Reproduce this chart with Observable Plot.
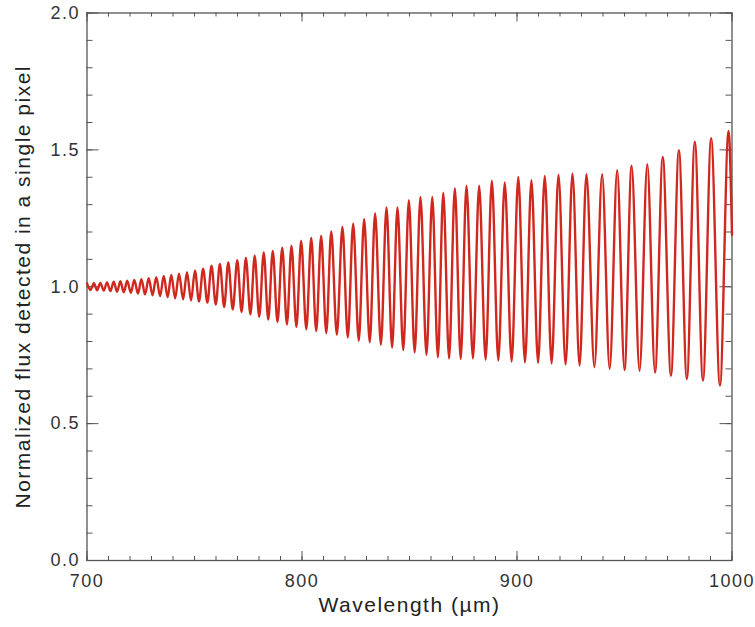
<!DOCTYPE html>
<html>
<head>
<meta charset="utf-8">
<script src="https://cdn.jsdelivr.net/npm/d3@7"></script>
<script src="https://cdn.jsdelivr.net/npm/@observablehq/plot@0.6"></script>
<style>
  html, body { margin: 0; padding: 0; background: #fff; }
  svg text { letter-spacing: 1.5px; }
</style>
</head>
<body>
<div id="chart"></div>
<script>
// Fringe maxima (wavelength in µm, normalized flux)
const peakWavelength = [700.0,703.2,706.2,709.3,712.4,715.5,718.7,722.0,725.3,728.7,732.2,735.7,739.2,742.8,746.5,750.2,754.0,
  757.9,761.8,765.7,769.9,773.9,778.0,782.2,786.4,790.8,795.1,799.6,804.3,808.9,813.6,
  818.8,823.8,828.9,834.0,839.3,844.4,849.7,855.1,860.6,865.7,871.1,
  876.5,882.4,888.3,894.3,900.6,906.7,912.9,919.3,925.8,932.3,
  939.6,946.6,953.3,960.6,967.8,975.3,982.7,990.3,998.4];
const peakFlux = [1.012,1.013,1.014,1.016,1.018,1.020,1.022,1.025,1.028,1.031,1.035,1.039,1.043,1.048,1.053,1.059,1.066,
  1.077,1.083,1.089,1.097,1.105,1.113,1.125,1.131,1.143,1.150,1.168,1.178,1.186,1.202,
  1.218,1.230,1.247,1.268,1.290,1.290,1.316,1.328,1.328,1.344,1.360,
  1.369,1.369,1.387,1.381,1.401,1.389,1.405,1.409,1.414,1.411,
  1.411,1.426,1.442,1.448,1.474,1.499,1.530,1.543,1.569];
// Fringe minima
const troughWavelength = [701.6,704.7,707.8,710.9,714.0,717.1,720.4,723.7,727.0,730.5,734.0,737.5,741.0,744.7,748.4,752.1,
  756.0,759.9,763.8,767.8,771.9,776.0,780.1,784.3,788.6,793.0,797.4,802.0,806.6,811.3,
  816.2,821.3,826.4,831.5,836.7,841.9,847.1,852.4,857.9,863.2,868.4,
  873.8,879.5,885.4,891.3,897.5,903.7,909.8,916.1,922.6,929.1,
  936.0,943.1,950.0,957.0,964.2,971.6,979.0,986.5,994.4];
const troughFlux = [0.988,0.987,0.986,0.984,0.982,0.980,0.978,0.975,0.972,0.969,0.966,0.962,0.958,0.954,0.950,0.946,
  0.942,0.935,0.926,0.917,0.908,0.899,0.890,0.880,0.871,0.862,0.853,0.845,0.838,0.831,
  0.825,0.815,0.803,0.797,0.788,0.778,0.769,0.760,0.751,0.742,0.738,
  0.736,0.738,0.734,0.730,0.727,0.724,0.722,0.720,0.716,0.712,
  0.706,0.700,0.696,0.693,0.687,0.675,0.663,0.657,0.639];
// Value where the curve leaves the right edge
const edgeWavelength = [1000];
const edgeFlux = [1.19];

const xMajor = [700, 800, 900, 1000];
const xMinor = d3.range(700, 1001, 10);
const yMajor = [0, 0.5, 1.0, 1.5, 2.0];
const yMinor = d3.range(0, 2.001, 0.1);

const points = [
  ...peakWavelength.map((w, i) => ({w, f: peakFlux[i]})),
  ...troughWavelength.map((w, i) => ({w, f: troughFlux[i]})),
  ...edgeWavelength.map((w, i) => ({w, f: edgeFlux[i]}))
].sort((a, b) => a.w - b.w);

const W = 755, H = 627;
const mL = 86.5, mR = 23.5, mT = 12.5, mB = 67;
const innerW = W - mL - mR, innerH = H - mT - mB;
const axisColor = "#555";

const chart = Plot.plot({
  width: W, height: H,
  marginLeft: mL, marginRight: mR, marginTop: mT, marginBottom: mB,
  style: {fontFamily: "'Liberation Sans', Arial, Helvetica, sans-serif", fontSize: "18px", color: "#333", background: "#fff"},
  x: {domain: [700, 1000]},
  y: {domain: [0, 2]},
  marks: [
    // inward ticks, bottom & top
    Plot.ruleX(xMinor, {x: d => d, insetTop: innerH - 4, stroke: axisColor}),
    Plot.ruleX(xMinor, {x: d => d, insetBottom: innerH - 4, stroke: axisColor}),
    Plot.ruleX(xMajor, {x: d => d, insetTop: innerH - 9, stroke: axisColor}),
    Plot.ruleX(xMajor, {x: d => d, insetBottom: innerH - 9, stroke: axisColor}),
    // inward ticks, left & right
    Plot.ruleY(yMinor, {y: d => d, insetRight: innerW - 6, stroke: axisColor}),
    Plot.ruleY(yMinor, {y: d => d, insetLeft: innerW - 6, stroke: axisColor}),
    Plot.ruleY(yMajor, {y: d => d, insetRight: innerW - 12, stroke: axisColor}),
    Plot.ruleY(yMajor, {y: d => d, insetLeft: innerW - 12, stroke: axisColor}),
    Plot.frame({stroke: axisColor, strokeWidth: 1.3}),
    Plot.axisX({ticks: xMajor, tickSize: 0, tickPadding: 14, tickFormat: d => String(d), label: null, fontSize: 18, fill: "#333"}),
    Plot.axisY({ticks: yMajor, tickSize: 0, tickPadding: 7, tickFormat: d => d.toFixed(1), label: null, fontSize: 18, fill: "#333"}),
    Plot.line(points, {x: "w", y: "f", curve: "monotone-x", stroke: "#d0281f", strokeWidth: 2.4}),
    Plot.text(["Wavelength (µm)"], {frameAnchor: "bottom", dy: 51, fontSize: 21, fill: "#222", textAnchor: "middle"}),
    Plot.text(["Normalized flux detected in a single pixel"], {frameAnchor: "left", dx: -64, rotate: -90, fontSize: 21, fill: "#222", textAnchor: "middle"})
  ]
});
document.getElementById("chart").appendChild(chart);
</script>
</body>
</html>
